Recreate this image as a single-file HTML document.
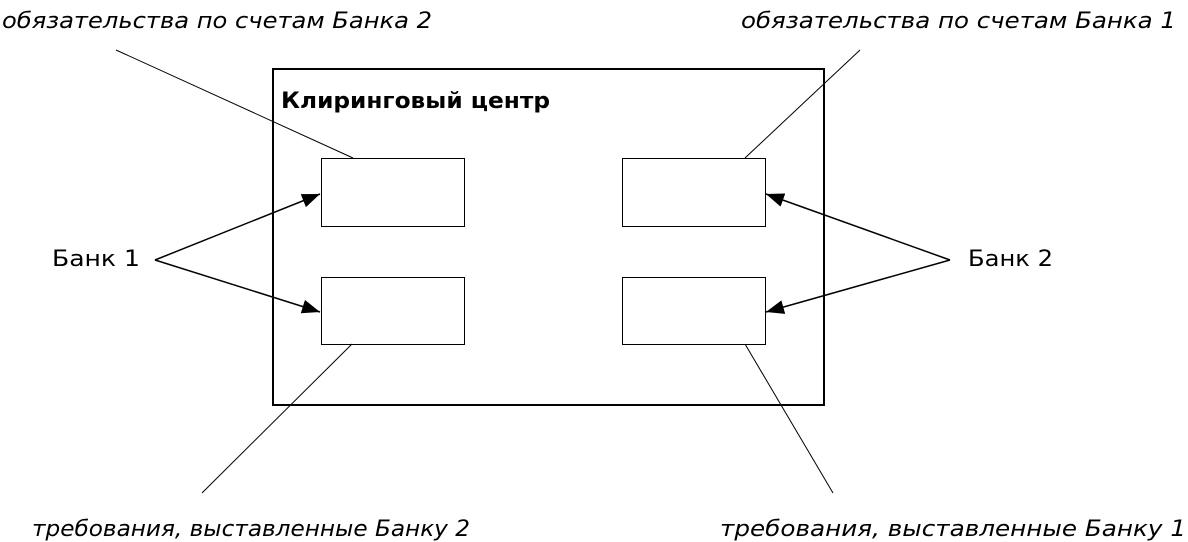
<!DOCTYPE html>
<html><head><meta charset="utf-8"><style>html,body{margin:0;padding:0;background:#fff}svg{display:block}</style></head>
<body>
<svg width="1188" height="542" xmlns="http://www.w3.org/2000/svg" font-family="Verdana, 'DejaVu Sans', sans-serif" font-size="22">
<defs><marker id="a" markerWidth="20" markerHeight="14" refX="18" refY="7" orient="auto" markerUnits="userSpaceOnUse"><path d="M0,0 L18,7 L0,14 z" fill="#000"/></marker></defs>
<rect x="273" y="69" width="551" height="336" fill="none" stroke="#000" stroke-width="2"/>
<text x="281" y="108" font-weight="bold" textLength="269" lengthAdjust="spacingAndGlyphs">Клиринговый центр</text>
<g fill="#fff" stroke="#000" stroke-width="1">
<rect x="321.5" y="158.5" width="143" height="68"/>
<rect x="321.5" y="277.5" width="143" height="67"/>
<rect x="622.5" y="158.5" width="143" height="68"/>
<rect x="622.5" y="277.5" width="143" height="67"/>
</g>
<g stroke="#000" stroke-width="1">
<line x1="116" y1="50" x2="353" y2="158"/>
<line x1="860" y1="50" x2="745" y2="158"/>
<line x1="352" y1="344" x2="202" y2="493"/>
<line x1="745" y1="344" x2="833" y2="493"/>
</g>
<g stroke="#000" stroke-width="1.5" fill="none">
<line x1="155" y1="260" x2="320" y2="194" marker-end="url(#a)"/>
<line x1="155" y1="260" x2="320" y2="312" marker-end="url(#a)"/>
<line x1="950" y1="260" x2="766" y2="194" marker-end="url(#a)"/>
<line x1="950" y1="260" x2="766" y2="312" marker-end="url(#a)"/>
</g>
<g font-style="italic">
<text x="2" y="28" textLength="430" lengthAdjust="spacingAndGlyphs">обязательства по счетам Банка 2</text>
<text x="741" y="28" textLength="435" lengthAdjust="spacingAndGlyphs">обязательства по счетам Банка 1</text>
<text x="32" y="536" textLength="438" lengthAdjust="spacingAndGlyphs">требования, выставленные Банку 2</text>
<text x="720" y="536" textLength="466" lengthAdjust="spacingAndGlyphs">требования, выставленные Банку 1</text>
</g>
<text x="52" y="266" textLength="88" lengthAdjust="spacingAndGlyphs">Банк 1</text>
<text x="968" y="266" textLength="85" lengthAdjust="spacingAndGlyphs">Банк 2</text>
</svg>
</body></html>
